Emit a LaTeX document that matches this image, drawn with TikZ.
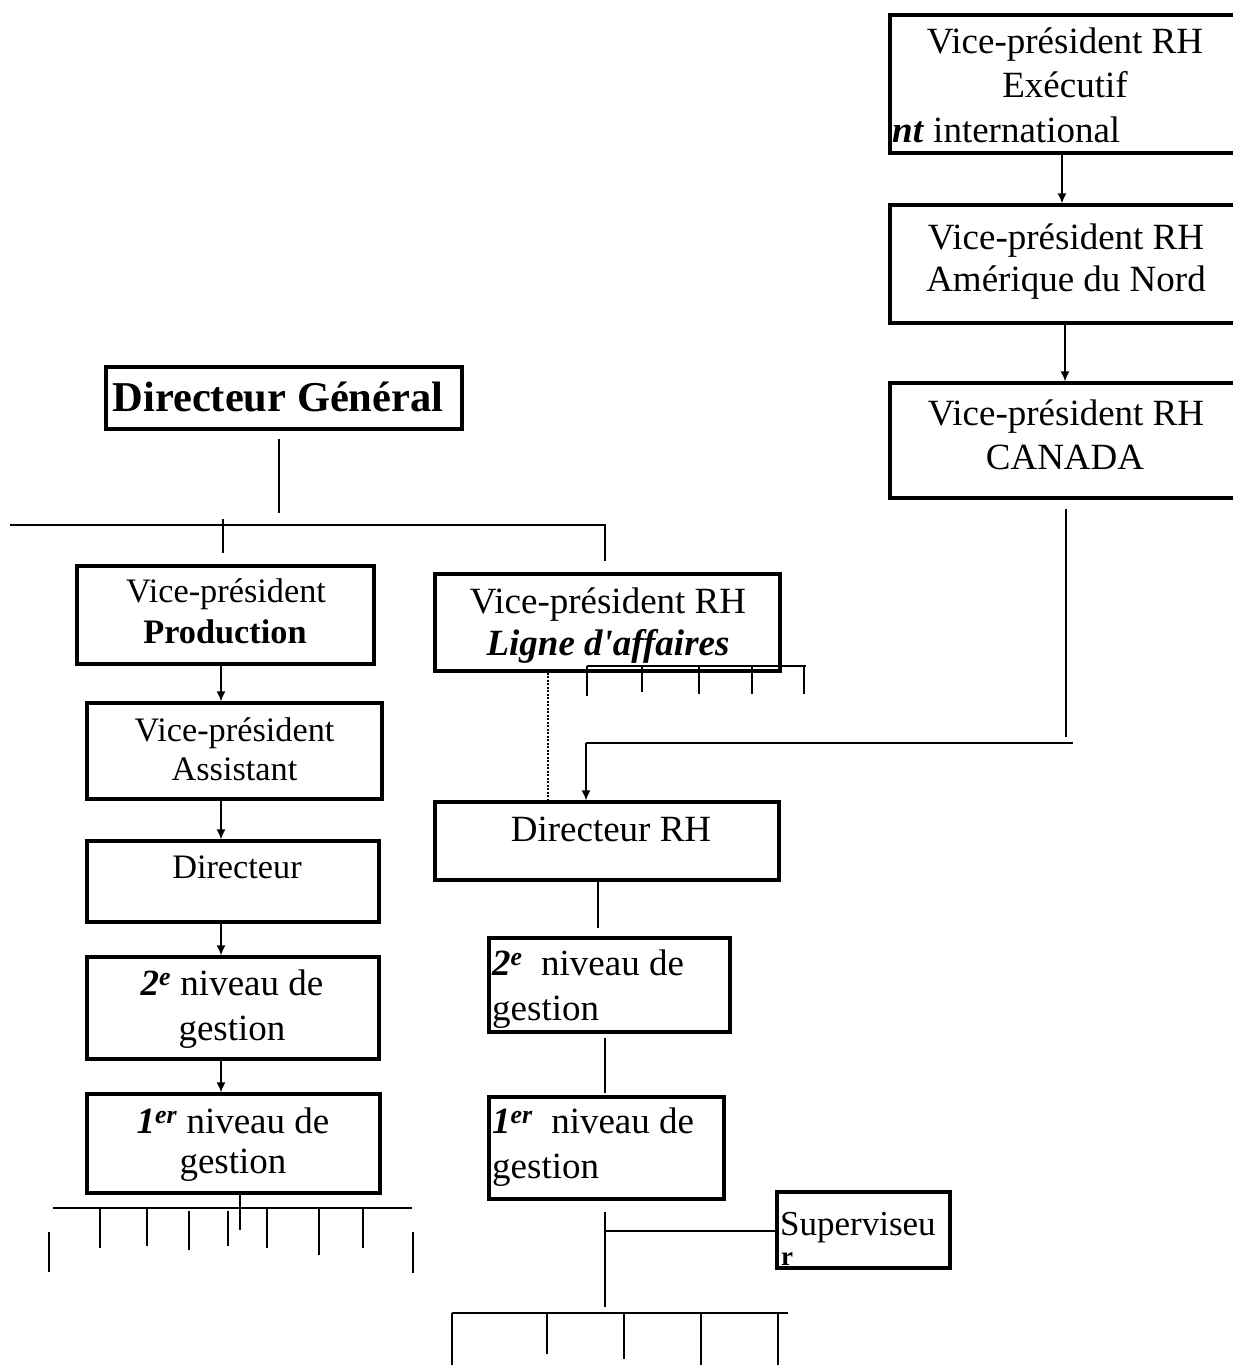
\documentclass[tikz,border=0pt]{standalone}
\usepackage{fontspec}
\setmainfont{Liberation Serif}
\usetikzlibrary{arrows.meta,fit}
\newcommand\bi[1]{\textbf{\textit{#1}}}
\begin{document}
\begin{tikzpicture}[x=1pt,y=-1pt,
  box/.style={draw, line width=3.3pt, inner sep=0pt, rectangle},
  wire/.style={line width=2.6pt},
  comb/.style={line width=2.8pt},
  arr/.style={line width=1.6pt, -{Latex[length=10pt,width=9pt]}},
  dotline/.style={line width=1.1pt, dash pattern=on 2pt off 1.5pt},
  txt/.style={inner sep=0pt, anchor=base, font=\fontsize{37}{42}\selectfont},
  txts/.style={inner sep=0pt, anchor=base, font=\fontsize{34.3}{40}\selectfont},
  txtl/.style={inner sep=0pt, anchor=base west, font=\fontsize{37}{42}\selectfont},
]
\useasboundingbox (0,0) rectangle (1233,1365);
\fill[white] (0,0) rectangle (1233,1365);
\clip (0,0) rectangle (1233,1365);

% ---------- boxes ----------
\node[box, fit={(890,15) (1240,153)}]   (exe) {};
\node[box, fit={(890,205) (1240,323)}]  (amn) {};
\node[box, fit={(890,383) (1240,498)}]  (can) {};
\node[box, fit={(106,367) (462,429)}]   (dg)  {};
\node[box, fit={(77,566) (374,664)}]    (vpp) {};
\node[box, fit={(87,703) (382,799)}]    (vpa) {};
\node[box, fit={(87,841) (379,922)}]    (dir) {};
\node[box, fit={(87,957) (379,1059)}]   (n2l) {};
\node[box, fit={(87,1094) (380,1193)}]  (n1l) {};
\node[box, fit={(435,574) (780,671)}]   (vrh) {};
\node[box, fit={(435,802) (779,880)}]   (drh) {};
\node[box, fit={(489,938) (730,1032)}]  (n2r) {};
\node[box, fit={(489,1097) (724,1199)}] (n1r) {};
\node[box, fit={(777,1192) (950,1268)}] (sup) {};

% ---------- texts ----------
\node[txt] (exe1) at (1065,53)  {Vice-président RH};
\node[txt] (exe2) at (1065,97)  {Exécutif};
\node[txtl] (exe3) at (892,142) {\bi{nt} international};

\node[txt] (amn1) at (1066,249) {Vice-président RH};
\node[txt] (amn2) at (1066,291) {Amérique du Nord};

\node[txt] (can1) at (1066,425) {Vice-président RH};
\node[txt] (can2) at (1065,469) {CANADA};

\node[inner sep=0pt, anchor=base, font=\fontsize{42.5}{48}\selectfont\bfseries]
  (dgt) at (278,411) {Directeur Général};

\node[txts] (vpp1) at (226,602) {Vice-président};
\node[txts] (vpp2) at (225,643) {\textbf{Production}};

\node[txts] (vpa1) at (234.5,741) {Vice-président};
\node[txts] (vpa2) at (234.5,780) {Assistant};

\node[txts] (dirt) at (237,878) {Directeur};

\node[txt] (n2l1) at (232,995)  {\bi{2\textsuperscript{e}} niveau de};
\node[txt] (n2l2) at (232,1040) {gestion};

\node[txt] (n1l1) at (233,1133) {\bi{1\textsuperscript{er}} niveau de};
\node[txt] (n1l2) at (233,1173) {gestion};

\node[txt] (vrh1) at (608,613) {Vice-président RH};
\node[txt] (vrh2) at (608,655) {\bi{Ligne d\textquotesingle affaires}};

\node[txt] (drht) at (611,841) {Directeur RH};

\node[txtl] (n2r1) at (492,975)  {\bi{2\textsuperscript{e}}\ \ niveau de};
\node[txtl] (n2r2) at (492,1020) {gestion};

\node[txtl] (n1r1) at (492,1133) {\bi{1\textsuperscript{er}}\ \ niveau de};
\node[txtl] (n1r2) at (492,1178) {gestion};

\node[inner sep=0pt, anchor=base west, font=\fontsize{35}{40}\selectfont]
  (sup1) at (780,1235) {Superviseu};
\node[inner sep=0pt, anchor=base west, font=\fontsize{27}{30}\selectfont\bfseries]
  (sup2) at (781,1265) {r};

% ---------- right-hand chain ----------
\coordinate (colR1) at (1062,0);
\coordinate (colR2) at (1065,0);
\draw[arr] (exe.south -| colR1) -- (amn.north -| colR1);
\draw[arr] (amn.south -| colR2) -- (can.north -| colR2);

\coordinate (canstem) at (1066,737);
\draw[wire] ([yshift=-9pt]can.south -| canstem) -- (canstem);
\coordinate (feed)  at (1073,743);
\coordinate (elbow) at (586,743);
\draw[wire] (feed) -- (elbow);
\draw[arr] (elbow) -- (elbow |- drh.north);

% ---------- general manager and bus ----------
\coordinate (dgstem) at (279,513);
\draw[wire] ([yshift=-8pt]dg.south -| dgstem) -- (dgstem);
\coordinate (busL) at (10,525);
\coordinate (busR) at (605,525);
\draw[wire] (busL) -- (busR) -- ([yshift=11pt]vrh.north -| busR);
\coordinate (tickP) at (223,519);
\draw[wire] (tickP) -- ([yshift=11pt]vpp.north -| tickP);

% ---------- production column ----------
\coordinate (colL) at (221,0);
\draw[arr] (vpp.south -| colL) -- (vpa.north -| colL);
\draw[arr] (vpa.south -| colL) -- (dir.north -| colL);
\draw[arr] ([yshift=4pt]dir.south -| colL) -- (n2l.north -| colL);
\draw[arr] ([yshift=4pt]n2l.south -| colL) -- (n1l.north -| colL);

% comb under the production column
\coordinate (stemL) at (240,1230);
\draw[comb] (n1l.south -| stemL) -- (stemL);
\draw[comb] (53,1208) -- (412,1208);
\draw[comb] (49,1232) -- (49,1272);
\draw[comb] (413,1232) -- (413,1273);
\draw[comb] (100,1208) -- (100,1248);
\draw[comb] (147,1208) -- (147,1246);
\draw[comb] (189,1211) -- (189,1250);
\draw[comb] (228,1211) -- (228,1246);
\draw[comb] (267,1208) -- (267,1248);
\draw[comb] (319,1208) -- (319,1255);
\draw[comb] (363,1208) -- (363,1248);

% comb on the business-line VP
\draw[comb] (587,666) -- (806,666);
\foreach \x/\y in {587/696, 642/692, 699/694, 752/694, 804/694}
  \draw[comb] (\x,666) -- (\x,\y);

% dotted functional link
\coordinate (dotx) at (548,0);
\draw[dotline] (vrh.south -| dotx) -- (drh.north -| dotx);

% ---------- HR column ----------
\coordinate (hr1) at (598,928);
\draw[wire] (drh.south -| hr1) -- (hr1);
\coordinate (hr2) at (605,1093);
\draw[wire] ([yshift=-4pt]n2r.south -| hr2) -- (hr2);
\coordinate (hr3top) at (605,1212);
\coordinate (hr3bot) at (605,1307);
\draw[wire] (hr3top) -- (hr3bot);
\coordinate (supjoin) at (605,1231);
\draw[wire] (supjoin) -- (supjoin -| sup.west);

% comb at the bottom
\draw[comb] (452,1313) -- (788,1313);
\foreach \x/\y in {452/1365, 547/1354, 624/1359, 701/1365, 778/1365}
  \draw[comb] (\x,1313) -- (\x,\y);
\end{tikzpicture}
\end{document}
